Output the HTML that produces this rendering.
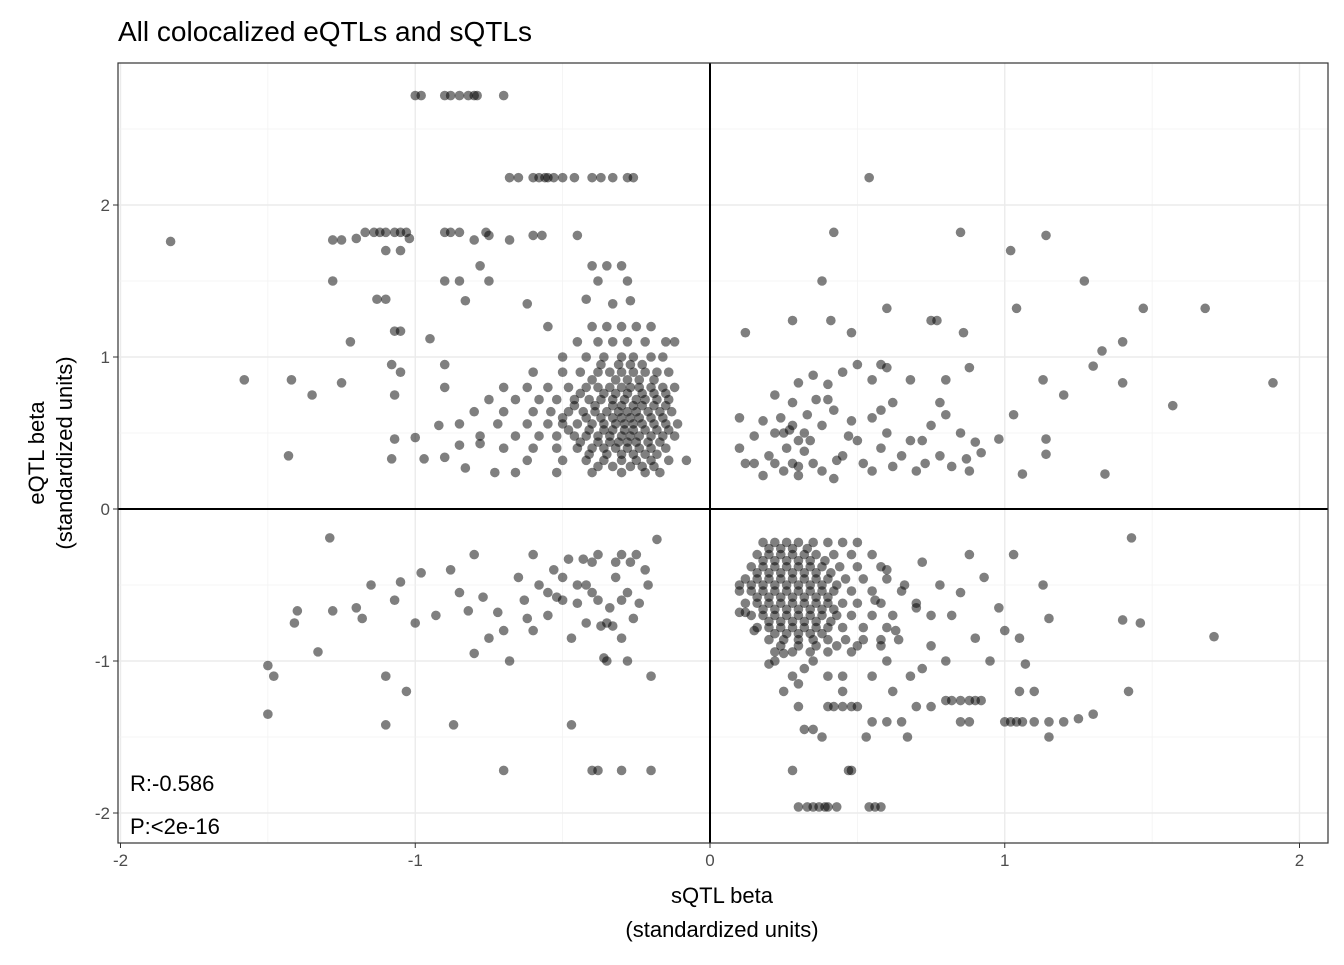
<!DOCTYPE html>
<html><head><meta charset="utf-8"><style>
body{margin:0;background:#fff;}
svg text{font-family:"Liberation Sans",Arial,sans-serif;}
</style></head><body>
<svg id="chart" width="1344" height="960">
<text x="118" y="41" font-size="28" fill="#000">All colocalized eQTLs and sQTLs</text>
<g id="grid"></g>
<g id="pts"></g>
<g id="axes"></g>
<text x="130" y="791" font-size="22" fill="#000">R:-0.586</text>
<text x="130" y="834" font-size="22" fill="#000">P:&lt;2e-16</text>
<text x="722" y="903" font-size="22" text-anchor="middle">sQTL beta</text>
<text x="722" y="937" font-size="22" text-anchor="middle">(standardized units)</text>
<text transform="translate(44,453) rotate(-90)" font-size="22" text-anchor="middle">eQTL beta</text>
<text transform="translate(72,453) rotate(-90)" font-size="22" text-anchor="middle">(standardized units)</text>
</svg>
<script>
const xTicks=[-2,-1,0,1,2];
const yTicks=[-2,-1,0,1,2];
const xTickLabels=["-2","-1","0","1","2"];
const yTickLabels=["-2","-1","0","1","2"];
const sparsePoints=[
[-1.83,1.76],[-1.58,0.85],[-1.42,0.85],[-1.43,0.35],[-1.35,0.75],[-1.25,0.83],[-1.22,1.1],[-1.28,1.5],[-1.28,1.77],[-1.25,1.77],[-1.2,1.78],[-1.17,1.82],[-1.14,1.82],[-1.12,1.82],[-1.1,1.82],[-1.07,1.82],[-1.05,1.82],[-1.03,1.82],[-1.02,1.78],[-1.13,1.38],[-1.1,1.38],[-1.07,1.17],[-1.05,1.17],[-1.1,1.7],[-1.05,1.7],[-1.08,0.95],[-1.07,0.75],[-1.05,0.9],[-1.0,0.47],[-1.08,0.33],[-1.07,0.46],[-0.97,0.33],[-0.9,0.34],[-0.9,1.82],[-0.88,1.82],[-0.85,1.82],[-0.8,1.77],[-0.76,1.82],[-0.75,1.8],[-0.68,1.77],[-0.6,1.8],[-0.57,1.8],[-0.45,1.8],[-0.95,1.12],[-0.9,1.5],[-0.85,1.5],[-0.83,1.37],[-0.78,1.6],[-0.75,1.5],[-0.62,1.35],[-0.55,1.2],[-0.9,0.8],[-0.92,0.55],[-0.85,0.42],[-0.83,0.27],[-0.78,0.43],[-0.73,0.24],[-0.9,0.95],[-0.4,1.6],[-0.35,1.6],[-0.3,1.6],[-0.28,1.5],[-0.38,1.5],[-0.42,1.38],[-0.33,1.35],[-0.27,1.37],
[-1.0,2.72],[-0.98,2.72],[-0.9,2.72],[-0.88,2.72],[-0.85,2.72],[-0.82,2.72],[-0.8,2.72],[-0.79,2.72],[-0.7,2.72],
[-0.68,2.18],[-0.65,2.18],[-0.6,2.18],[-0.58,2.18],[-0.56,2.18],[-0.55,2.18],[-0.53,2.18],[-0.5,2.18],[-0.46,2.18],[-0.4,2.18],[-0.37,2.18],[-0.33,2.18],[-0.28,2.18],[-0.26,2.18],
[-0.7,-1.72],[-0.4,-1.72],[-0.38,-1.72],[-0.3,-1.72],[-0.2,-1.72],[-1.1,-1.42],[-0.87,-1.42],[-0.47,-1.42],[-1.5,-1.03],[-1.48,-1.1],[-1.5,-1.35],[-1.4,-0.67],[-1.41,-0.75],[-1.33,-0.94],[-1.29,-0.19],[-1.28,-0.67],[-1.2,-0.65],[-1.15,-0.5],[-1.18,-0.72],[-1.1,-1.1],[-1.05,-0.48],[-1.07,-0.6],[-1.03,-1.2],[-1.0,-0.75],[-0.98,-0.42],[-0.93,-0.7],[-0.88,-0.4],[-0.85,-0.55],[-0.82,-0.67],[-0.8,-0.95],[-0.8,-0.3],[-0.77,-0.58],[-0.75,-0.85],[-0.72,-0.68],[-0.7,-0.8],[-0.68,-1.0],[-0.65,-0.45],[-0.63,-0.6],[-0.6,-0.3],[-0.6,-0.8],[-0.58,-0.5],[-0.55,-0.7],[-0.53,-0.4],[-0.5,-0.6],[-0.48,-0.33],[-0.47,-0.85],[-0.45,-0.5],[-0.42,-0.75],[-0.4,-0.55],[-0.38,-0.3],[-0.36,-0.98],[-0.34,-0.65],[-0.32,-0.45],[-0.3,-0.85],[-0.28,-0.55],[-0.26,-0.72],[-0.25,-0.3],[-0.22,-0.4],[-0.2,-1.1],[-0.18,-0.2],[-0.35,-0.75],[-0.37,-0.77],[-0.33,-0.77],[-0.4,-0.35],[-0.3,-0.3],[-0.27,-0.35],[-0.45,-0.62],[-0.55,-0.55],[-0.62,-0.72],[-0.5,-0.45],[-0.43,-0.33],[-0.35,-1.0],[-0.28,-1.0],[-0.24,-0.62],[-0.21,-0.5],[-0.52,-0.58],[-0.42,-0.5],[-0.38,-0.6],[-0.32,-0.35],[-0.3,-0.6],
[0.54,2.18],[0.42,1.82],[0.85,1.82],[1.14,1.8],[1.02,1.7],[0.38,1.5],[0.6,1.32],[0.28,1.24],[0.41,1.24],[0.12,1.16],[0.48,1.16],[0.75,1.24],[0.77,1.24],[0.86,1.16],[1.04,1.32],[1.27,1.5],[1.47,1.32],[1.68,1.32],[1.33,1.04],[1.3,0.94],[1.4,1.1],[1.4,0.83],[1.91,0.83],[1.57,0.68],[1.13,0.85],[1.2,0.75],[1.34,0.23],[1.03,0.62],[1.14,0.46],[1.14,0.36],[1.06,0.23],[0.98,0.46],[0.9,0.44],[0.85,0.5],[0.87,0.33],[0.88,0.25],[0.78,0.7],[0.8,0.62],[0.8,0.85],[0.88,0.93],[0.68,0.85],[0.58,0.95],[0.6,0.93],[0.55,0.85],[0.5,0.95],[0.45,0.9],[0.4,0.82],[0.35,0.88],[0.3,0.83],[0.28,0.7],[0.22,0.75],[0.18,0.58],[0.1,0.6],[0.1,0.4],[0.15,0.3],[0.18,0.22],[0.22,0.5],[0.25,0.5],[0.28,0.55],[0.3,0.45],[0.32,0.38],[0.35,0.3],[0.38,0.25],[0.42,0.2],[0.45,0.35],[0.48,0.58],[0.5,0.45],[0.52,0.3],[0.55,0.6],[0.58,0.4],[0.6,0.5],[0.62,0.28],[0.65,0.35],[0.7,0.25],[0.72,0.45],[0.75,0.55],[0.78,0.35],[0.82,0.28],[0.25,0.25],[0.28,0.3],[0.3,0.28],[0.26,0.4],[0.24,0.6],[0.33,0.62],[0.36,0.72],[0.4,0.72],[0.42,0.65],[0.38,0.55],[0.2,0.35],[0.12,0.3],[0.15,0.48],[0.43,0.32],[0.55,0.25],[0.47,0.48],[0.34,0.45],[0.62,0.7],[0.68,0.45],[0.73,0.3],[0.92,0.37],[0.58,0.65],[0.22,0.3],[0.27,0.52],[0.3,0.22],[0.32,0.5],
[0.3,-1.96],[0.33,-1.96],[0.35,-1.96],[0.37,-1.96],[0.39,-1.96],[0.4,-1.96],[0.43,-1.96],[0.54,-1.96],[0.56,-1.96],[0.58,-1.96],[0.28,-1.72],[0.47,-1.72],[0.48,-1.72],
[0.25,-1.2],[0.3,-1.3],[0.32,-1.45],[0.35,-1.45],[0.38,-1.5],[0.4,-1.3],[0.42,-1.3],[0.45,-1.3],[0.48,-1.3],[0.5,-1.3],[0.53,-1.5],[0.55,-1.4],[0.6,-1.4],[0.65,-1.4],[0.67,-1.5],[0.7,-1.3],[0.75,-1.3],[0.8,-1.26],[0.82,-1.26],[0.85,-1.26],[0.88,-1.26],[0.9,-1.26],[0.92,-1.26],[0.88,-1.4],[0.85,-1.4],[1.0,-1.4],[1.02,-1.4],[1.04,-1.4],[1.06,-1.4],[1.1,-1.4],[1.15,-1.4],[1.2,-1.4],[1.25,-1.38],[1.3,-1.35],[1.15,-1.5],[1.05,-1.2],[1.1,-1.2],[1.42,-1.2],[1.43,-0.19],[1.4,-0.73],[1.46,-0.75],[1.71,-0.84],[1.13,-0.5],[1.15,-0.72],[1.05,-0.85],[1.0,-0.8],[1.07,-1.02],[1.03,-0.3],[0.98,-0.65],[0.93,-0.45],[0.88,-0.3],[0.85,-0.55],[0.82,-0.7],[0.8,-1.0],[0.78,-0.5],[0.75,-0.9],[0.72,-0.35],[0.7,-0.65],[0.68,-1.1],[0.66,-0.5],[0.63,-0.8],[0.6,-0.4],[0.6,-1.0],[0.58,-0.9],[0.56,-0.6],[0.55,-1.1],[0.5,-0.9],[0.45,-1.1],[0.4,-1.1],[0.35,-1.0],[0.32,-1.05],[0.28,-1.1],[0.22,-1.0],[0.2,-1.02],[0.25,-0.95],[0.15,-0.8],[0.12,-0.68],[0.1,-0.5],[0.1,-0.68],[0.3,-1.15],[0.45,-1.2],[0.62,-1.2],[0.72,-1.05],[0.9,-0.85],[0.95,-1.0]
];
const ulRowY=[1.2,1.1,1.0,0.9,0.8,0.72,0.64,0.56,0.48,0.4,0.32,0.24,0.95,0.85,0.76,0.68,0.6,0.52,0.44,0.36,0.28];
const ulRowX=[
[-0.4,-0.35,-0.3,-0.25,-0.2],
[-0.45,-0.38,-0.33,-0.28,-0.22,-0.15,-0.12],
[-0.5,-0.42,-0.36,-0.3,-0.26,-0.2,-0.16],
[-0.6,-0.5,-0.44,-0.38,-0.34,-0.3,-0.26,-0.22,-0.18,-0.14],
[-0.7,-0.62,-0.55,-0.48,-0.42,-0.38,-0.34,-0.3,-0.27,-0.24,-0.2,-0.16,-0.12],
[-0.75,-0.66,-0.58,-0.52,-0.46,-0.41,-0.37,-0.33,-0.29,-0.25,-0.22,-0.18,-0.14],
[-0.8,-0.7,-0.6,-0.54,-0.48,-0.43,-0.39,-0.35,-0.31,-0.28,-0.25,-0.21,-0.17,-0.13],
[-0.85,-0.72,-0.62,-0.55,-0.5,-0.45,-0.4,-0.36,-0.32,-0.29,-0.26,-0.23,-0.19,-0.15,-0.11],
[-0.78,-0.66,-0.58,-0.52,-0.46,-0.42,-0.38,-0.34,-0.3,-0.27,-0.24,-0.2,-0.16,-0.12],
[-0.7,-0.6,-0.52,-0.45,-0.4,-0.36,-0.32,-0.28,-0.24,-0.2,-0.15],
[-0.62,-0.5,-0.42,-0.36,-0.3,-0.25,-0.2,-0.14,-0.08],
[-0.66,-0.52,-0.4,-0.3,-0.22,-0.17],
[-0.37,-0.31,-0.27,-0.23],
[-0.4,-0.32,-0.28,-0.24,-0.19],
[-0.44,-0.36,-0.32,-0.28,-0.23,-0.19,-0.15],
[-0.46,-0.39,-0.33,-0.3,-0.26,-0.23,-0.19,-0.15],
[-0.5,-0.42,-0.37,-0.33,-0.3,-0.27,-0.24,-0.2,-0.16],
[-0.48,-0.41,-0.36,-0.33,-0.29,-0.26,-0.22,-0.18,-0.14],
[-0.44,-0.38,-0.34,-0.31,-0.28,-0.25,-0.21,-0.17],
[-0.41,-0.35,-0.3,-0.26,-0.22,-0.18],
[-0.38,-0.33,-0.27,-0.23,-0.19]
];
const lrRowY=[-0.22,-0.3,-0.38,-0.46,-0.54,-0.62,-0.7,-0.78,-0.86,-0.94,-0.26,-0.34,-0.42,-0.5,-0.58,-0.66,-0.74,-0.82,-0.9];
const lrRowX=[
[0.18,0.22,0.26,0.3,0.35,0.4,0.45,0.5],
[0.16,0.2,0.24,0.28,0.32,0.36,0.42,0.48,0.55],
[0.14,0.18,0.22,0.26,0.3,0.34,0.38,0.44,0.5,0.58],
[0.12,0.16,0.2,0.24,0.28,0.32,0.36,0.4,0.46,0.52,0.6],
[0.1,0.14,0.18,0.22,0.26,0.3,0.34,0.38,0.42,0.48,0.55,0.65],
[0.12,0.16,0.2,0.24,0.28,0.32,0.36,0.4,0.45,0.5,0.58,0.7],
[0.14,0.18,0.22,0.26,0.3,0.34,0.38,0.43,0.48,0.55,0.62,0.75],
[0.16,0.2,0.24,0.28,0.32,0.36,0.4,0.45,0.52,0.6],
[0.2,0.25,0.3,0.35,0.4,0.46,0.52,0.58,0.64],
[0.22,0.28,0.34,0.4,0.48],
[0.2,0.24,0.28,0.33],
[0.18,0.22,0.26,0.3,0.34,0.39],
[0.16,0.2,0.24,0.28,0.32,0.36,0.41],
[0.14,0.18,0.22,0.26,0.3,0.34,0.38,0.43],
[0.16,0.2,0.24,0.28,0.32,0.36,0.4],
[0.18,0.22,0.26,0.3,0.34,0.38,0.42],
[0.2,0.24,0.28,0.32,0.36,0.41],
[0.22,0.26,0.3,0.34,0.38],
[0.24,0.3,0.36,0.43]
];
const NS="http://www.w3.org/2000/svg";
const L=118,R=1328,T=63,B=843;
function sx(v){return 710+v*294.75;}
function sy(v){return 509-v*152;}
function mk(tag,attrs,parent){const e=document.createElementNS(NS,tag);for(const k in attrs)e.setAttribute(k,attrs[k]);parent.appendChild(e);return e;}
const grid=document.getElementById('grid'),axes=document.getElementById('axes'),pts=document.getElementById('pts');
const bg=mk('rect',{x:L,y:T,width:R-L,height:B-T,fill:'#fff'},grid);


for(let i=0;i<xTicks.length;i++){
 const x=sx(xTicks[i]);
 const g=mk('line',{x1:x,x2:x,y1:T,y2:B,stroke:'#ebebeb','stroke-width':1.4},grid);
 
 
 if(i<xTicks.length-1){const m=sx((xTicks[i]+xTicks[i+1])/2);mk('line',{x1:m,x2:m,y1:T,y2:B,stroke:'#f2f2f2','stroke-width':0.8},grid);}
 mk('line',{x1:x,x2:x,y1:B,y2:B+5,stroke:'#333','stroke-width':1},axes);
 const t=mk('text',{x:x,y:B+23,'font-size':17,'text-anchor':'middle',fill:'#4d4d4d'},axes);
 t.textContent=xTickLabels[i];
 
 
}
for(let i=0;i<yTicks.length;i++){
 const y=sy(yTicks[i]);
 const g=mk('line',{x1:L,x2:R,y1:y,y2:y,stroke:'#ebebeb','stroke-width':1.4},grid);
 
 
 if(i<yTicks.length-1){const m=sy((yTicks[i]+yTicks[i+1])/2);mk('line',{x1:L,x2:R,y1:m,y2:m,stroke:'#f2f2f2','stroke-width':0.8},grid);}
 mk('line',{x1:L-5,x2:L,y1:y,y2:y,stroke:'#333','stroke-width':1},axes);
 const t=mk('text',{x:L-8,y:y+6,'font-size':17,'text-anchor':'end',fill:'#4d4d4d'},axes);
 t.textContent=yTickLabels[i];
 
 
}
{const m=sy(2.5);mk('line',{x1:L,x2:R,y1:m,y2:m,stroke:'#f2f2f2','stroke-width':0.8},grid);}
function dot(x,y){
 const c=mk('circle',{cx:sx(x),cy:sy(y),r:4.8,fill:'#000','fill-opacity':0.5},pts);
 
 
}
sparsePoints.forEach(p=>dot(p[0],p[1]));
ulRowY.forEach((y,i)=>ulRowX[i].forEach(x=>dot(x,y)));
lrRowY.forEach((y,i)=>lrRowX[i].forEach(x=>dot(x,y)));
const h=mk('line',{x1:L,x2:R,y1:sy(0),y2:sy(0),stroke:'#000','stroke-width':2},axes);


const v=mk('line',{x1:sx(0),x2:sx(0),y1:T,y2:B,stroke:'#000','stroke-width':2},axes);


const bd=mk('rect',{x:L,y:T,width:R-L,height:B-T,fill:'none',stroke:'#333','stroke-width':1.2},axes);


</script>
</body></html>
